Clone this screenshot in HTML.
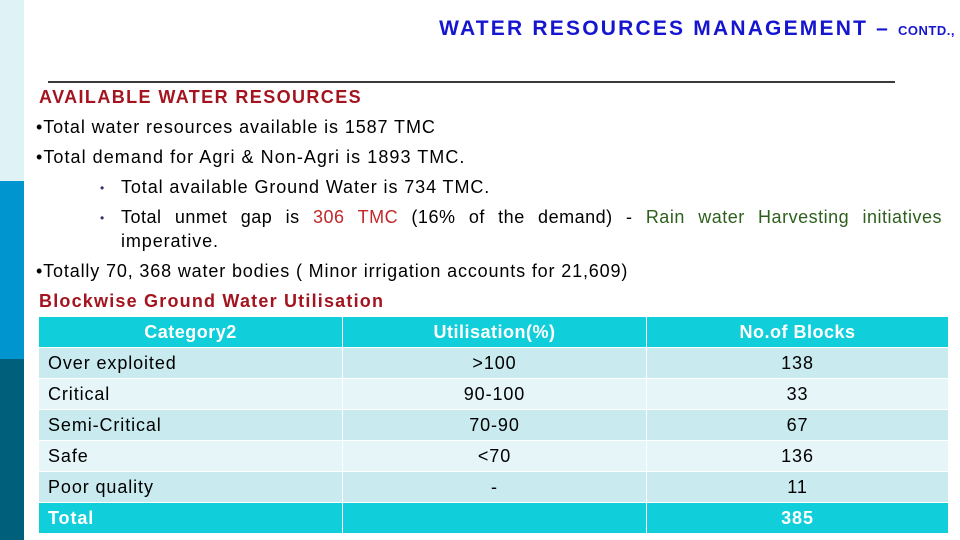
<!DOCTYPE html>
<html><head><meta charset="utf-8"><style>
body{margin:0;width:960px;height:540px;background:#fff;position:relative;overflow:hidden;font-family:"Liberation Sans",Arial,sans-serif;letter-spacing:0.9px}
.strip{position:absolute;left:0;width:24px}
.t{position:absolute;white-space:nowrap;font-size:18px;color:#000}
.red{color:#a3141f;font-weight:bold;letter-spacing:1.4px}
table{position:absolute;left:38px;top:316px;width:911px;border-collapse:collapse;font-size:18px}
td{height:30px;padding:0 9px;border:1px solid #fff}
tr.h td{background:#11cedb;color:#fff;font-weight:bold;text-align:center;letter-spacing:0.5px}
tr.a td{background:#c9eaee}
tr.b td{background:#e5f5f8}
tr.tot td{background:#11cedb;color:#fff;font-weight:bold}
td.c{text-align:center}
.dot{position:absolute;left:100px;font-size:12px;color:#336}
</style></head><body>
<div class="strip" style="top:0;height:181px;background:#dff3f7"></div>
<div class="strip" style="top:181px;height:178px;background:#0095cf"></div>
<div class="strip" style="top:359px;height:181px;background:#005f7b"></div>
<div class="t" style="right:5px;top:17px;color:#1616d0;font-size:21px;font-weight:bold;letter-spacing:2.2px">WATER RESOURCES MANAGEMENT – <span style="font-size:13px;letter-spacing:0.5px">CONTD.,</span></div>
<div style="position:absolute;left:48px;top:81px;width:847px;height:2px;background:#3a3a3a"></div>
<div class="t red" style="left:39px;top:87px">AVAILABLE WATER RESOURCES</div>
<div class="t" style="left:36px;top:117px">•Total water resources available is 1587 TMC</div>
<div class="t" style="left:36px;top:147px;letter-spacing:1.05px">•Total demand for Agri &amp; Non-Agri is 1893 TMC.</div>
<div class="dot" style="top:181px">•</div>
<div class="t" style="left:121px;top:177px">Total available Ground Water is 734 TMC.</div>
<div class="dot" style="top:211px">•</div>
<div class="t" style="left:121px;top:207px;width:821px;white-space:normal;text-align:justify;text-align-last:justify;letter-spacing:0.5px">Total unmet gap is <span style="color:#c0282a">306 TMC</span> (16% of the demand) - <span style="color:#2d5f1d">Rain water Harvesting initiatives</span></div>
<div class="t" style="left:121px;top:231px">imperative.</div>
<div class="t" style="left:36px;top:261px;letter-spacing:0.85px">•Totally 70, 368 water bodies ( Minor irrigation accounts for 21,609)</div>
<div class="t red" style="left:39px;top:291px;letter-spacing:1.2px">Blockwise Ground Water Utilisation</div>
<table>
<tr class="h"><td style="width:285px">Category2</td><td style="width:285px">Utilisation(%)</td><td>No.of Blocks</td></tr>
<tr class="a"><td>Over exploited</td><td class="c">&gt;100</td><td class="c">138</td></tr>
<tr class="b"><td>Critical</td><td class="c">90-100</td><td class="c">33</td></tr>
<tr class="a"><td>Semi-Critical</td><td class="c">70-90</td><td class="c">67</td></tr>
<tr class="b"><td>Safe</td><td class="c">&lt;70</td><td class="c">136</td></tr>
<tr class="a"><td>Poor quality</td><td class="c">-</td><td class="c">11</td></tr>
<tr class="tot"><td>Total</td><td></td><td class="c">385</td></tr>
</table>
</body></html>
